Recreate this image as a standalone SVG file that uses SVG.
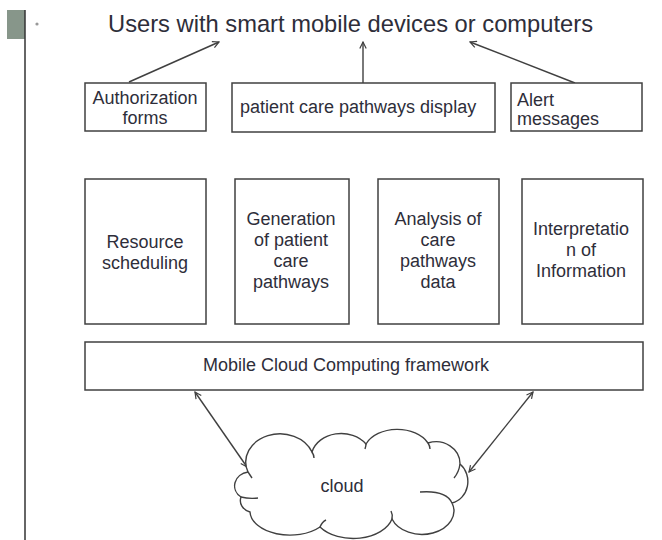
<svg xmlns="http://www.w3.org/2000/svg" width="662" height="540" viewBox="0 0 662 540">
<defs>
<style>
.box{fill:#fff;stroke:#404040;stroke-width:1.5}
.t{font-family:"Liberation Sans",Arial,sans-serif;font-size:18px;fill:#2e2e3a}
.m{text-anchor:middle}
.c{fill:none;stroke:#404040;stroke-width:1.4}
.cl{fill:#fff;stroke:#404040;stroke-width:1.4}
.h{fill:none;stroke:#404040;stroke-width:1.4}
</style>
<marker id="ah" viewBox="0 0 10 10" refX="9" refY="5" markerWidth="8" markerHeight="8" markerUnits="userSpaceOnUse" orient="auto-start-reverse">
<path d="M1,1 L9,5 L1,9" fill="none" stroke="#404040" stroke-width="1.5"/>
</marker>
</defs>
<rect width="662" height="540" fill="#fff"/>
<g id="slide-deco">
<rect x="7" y="10" width="18" height="29" fill="#87968a"/>
<line x1="25" y1="10" x2="25" y2="540" stroke="#333" stroke-width="1.5"/>
<circle cx="37" cy="24" r="1.6" fill="#999"/>
</g>
<g id="users">
<text class="t" x="108" y="32" style="font-size:23.7px" textLength="485" lengthAdjust="spacingAndGlyphs">Users with smart mobile devices or computers</text>
</g>
<g id="connectors">
<line class="c" x1="129" y1="82" x2="219" y2="42" marker-end="url(#ah)"/>
<line class="c" x1="363" y1="83" x2="363" y2="42" marker-end="url(#ah)"/>
<line class="c" x1="575" y1="83" x2="470" y2="42" marker-end="url(#ah)"/>
<line class="c" x1="195" y1="392" x2="247" y2="467" marker-start="url(#ah)" marker-end="url(#ah)"/>
<line class="c" x1="533" y1="392" x2="469" y2="472" marker-start="url(#ah)" marker-end="url(#ah)"/>
</g>
<g id="auth">
<rect class="box" x="85" y="83" width="121" height="48"/>
<text class="t m" x="145" y="104">Authorization</text>
<text class="t m" x="145" y="124">forms</text>
</g>
<g id="display">
<rect class="box" x="232" y="83" width="263" height="49"/>
<text class="t" x="240" y="113">patient care pathways display</text>
</g>
<g id="alert">
<rect class="box" x="511" y="83" width="131" height="48"/>
<text class="t" x="517" y="106">Alert</text>
<text class="t" x="517" y="125">messages</text>
</g>
<g id="resource">
<rect class="box" x="85" y="179" width="121" height="145"/>
<text class="t m" x="145" y="248">Resource</text>
<text class="t m" x="145" y="269">scheduling</text>
</g>
<g id="generation">
<rect class="box" x="235" y="179" width="114" height="145"/>
<text class="t m" x="291" y="225">Generation</text>
<text class="t m" x="291" y="246">of  patient</text>
<text class="t m" x="291" y="267">care</text>
<text class="t m" x="291" y="288">pathways</text>
</g>
<g id="analysis">
<rect class="box" x="378" y="179" width="121" height="145"/>
<text class="t m" x="438" y="225">Analysis of</text>
<text class="t m" x="438" y="246">care</text>
<text class="t m" x="438" y="267">pathways</text>
<text class="t m" x="438" y="288">data</text>
</g>
<g id="interpretation">
<rect class="box" x="522" y="179" width="121" height="145"/>
<text class="t m" x="581" y="235">Interpretatio</text>
<text class="t m" x="581" y="256">n of</text>
<text class="t m" x="581" y="277">Information</text>
</g>
<g id="framework">
<rect class="box" x="85" y="342" width="558" height="48"/>
<text class="t" x="203" y="371">Mobile Cloud Computing  framework</text>
</g>
<g id="cloud">
<path class="cl" d="M248,472 A34,28 0 0 1 312,452 A30,24 0 0 1 366,444 A34,24 0 0 1 428,443 A24,22 0 0 1 460,464 A20,22 0 0 1 452,503 A30,22 0 0 1 392,519 A40,26 0 0 1 320,527 A40,24 0 0 1 250,512 A14,12 0 0 1 241,497 A16,14 0 0 1 248,472 Z"/>
<path class="h" d="M241,497 Q249,499 258,498"/>
<path class="h" d="M248,472 Q250,475 252,478"/>
<path class="h" d="M312,452 Q314,455 314,458"/>
<path class="h" d="M366,444 Q366,446 365,449"/>
<path class="h" d="M428,443 Q430,446 430,449"/>
<path class="h" d="M460,464 Q459,472 454,478"/>
<path class="h" d="M452,503 Q446,490 420,492"/>
<path class="h" d="M392,519 Q393,515 391,511"/>
<path class="h" d="M320,527 Q322,522 326,520"/>
<text class="t m" x="342" y="492">cloud</text>
</g>
</svg>
